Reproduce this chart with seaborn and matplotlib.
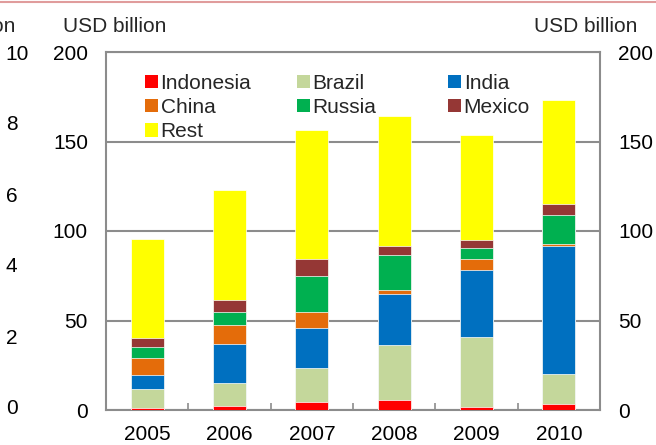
import numpy as np
import pandas as pd
import matplotlib
matplotlib.use("Agg")
import matplotlib.pyplot as plt
import seaborn as sns
from matplotlib.patches import Patch
from matplotlib.lines import Line2D
from matplotlib.legend import Legend

# Flows by country, USD billion
years = ["2005", "2006", "2007", "2008", "2009", "2010"]
indonesia = [1.1, 2.4, 4.6, 5.6, 1.8, 3.3]
brazil = [10.4, 12.6, 19.0, 30.8, 39.2, 16.7]
india = [7.8, 22.1, 22.3, 28.4, 37.2, 71.7]
china = [9.7, 10.3, 8.7, 2.1, 6.1, 0.9]
russia = [6.1, 7.6, 20.1, 19.6, 6.3, 16.2]
mexico = [5.2, 6.3, 9.8, 5.3, 4.1, 6.1]
rest = [55.3, 61.7, 71.9, 72.2, 58.9, 58.4]

series = ["Indonesia", "Brazil", "India", "China", "Russia", "Mexico", "Rest"]
colors = {
    "Indonesia": "#FF0000",
    "Brazil": "#C4D79B",
    "India": "#0070C0",
    "China": "#E46C0A",
    "Russia": "#00B050",
    "Mexico": "#953735",
    "Rest": "#FFFF00",
}

df = pd.DataFrame({
    "year": years,
    "Indonesia": indonesia,
    "Brazil": brazil,
    "India": india,
    "China": china,
    "Russia": russia,
    "Mexico": mexico,
    "Rest": rest,
})
cum = df[series].cumsum(axis=1)
cum["year"] = df["year"]

sns.set_theme(style="white")
plt.rcParams["font.family"] = ["Liberation Sans", "DejaVu Sans"]
FS = 15
GRAY = "#8c8c8c"

fig = plt.figure(figsize=(6.56, 4.45), dpi=100)
ax = fig.add_axes([106 / 656, 1 - 410 / 445, 494 / 656, 358 / 445])

# stacked bars: draw cumulative totals from the top layer down
for name in reversed(series):
    sns.barplot(data=cum, x="year", y=name, color=colors[name], width=0.4,
                saturation=1, edgecolor="white", linewidth=0.5, ax=ax, zorder=3)

ax.set_xlim(-0.5, 5.5)
ax.set_ylim(0, 200)
ax.set_yticks(np.arange(0, 201, 50))
ax.set_xlabel("")
ax.set_ylabel("")
ax.yaxis.grid(True, color=GRAY, lw=1.5)
ax.xaxis.grid(False)
ax.set_axisbelow(True)
for sp in ax.spines.values():
    sp.set_visible(True)
    sp.set_color(GRAY)
    sp.set_linewidth(1.5)

ax.set_xticks(np.arange(0.5, 5.0, 1.0), minor=True)
ax.tick_params(axis="x", which="major", length=0, pad=11, labelsize=FS, colors="black")
ax.tick_params(axis="x", which="minor", direction="in", length=5, width=1.2,
               color=GRAY, bottom=True)
ax.tick_params(axis="y", length=0, pad=13, labelsize=FS, left=True, right=True,
               labelleft=True, labelright=True, colors="black")

# legend, one column at a time so entries read across rows
cols = [["Indonesia", "China", "Rest"], ["Brazil", "Russia"], ["India", "Mexico"]]
xs = [(145 - 106) / 494, (297 - 106) / 494, (448 - 106) / 494]
for names, x in zip(cols, xs):
    handles = [Patch(facecolor=colors[n], edgecolor="none") for n in names]
    leg = Legend(ax, handles, names, loc="upper left",
                 bbox_to_anchor=(x, (410 - 74) / 358), bbox_transform=ax.transAxes,
                 frameon=False, fontsize=FS, borderpad=0, borderaxespad=0,
                 handlelength=0.6, handleheight=0.6, handletextpad=0.15,
                 labelspacing=0.25)
    ax.add_artist(leg)

# edge of the neighbouring panel on the left
axl = fig.add_axes([-0.32, 1 - 407 / 445, 0.3032, 355 / 445])
axl.set_facecolor("none")
axl.set_ylim(0, 10)
axl.set_yticks(np.arange(0, 11, 2))
axl.set_xticks([])
axl.yaxis.tick_right()
axl.tick_params(axis="y", length=0, pad=12, labelsize=FS, colors="black")
for sp in axl.spines.values():
    sp.set_visible(False)

fig.text(15 / 656, 1 - 26 / 445, "USD billion", ha="right", va="center", fontsize=FS)
fig.text(115 / 656, 1 - 26 / 445, "USD billion", ha="center", va="center", fontsize=FS)
fig.text(586 / 656, 1 - 26 / 445, "USD billion", ha="center", va="center", fontsize=FS)

fig.add_artist(Line2D([0, 1], [1 - 1.5 / 445] * 2, transform=fig.transFigure,
                      color="#E09C9C", lw=1.5))

fig.savefig("out.png", dpi=100)
